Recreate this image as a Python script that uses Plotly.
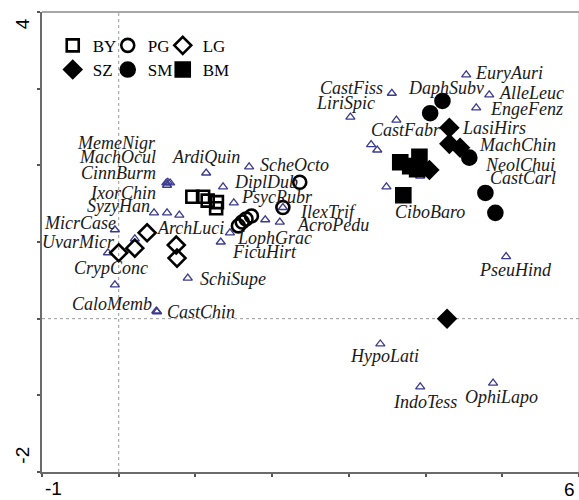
import plotly.graph_objects as go

# ---- species scores (triangles) ----
species = ["EuryAuri", "AlleLeuc", "EngeFenz", "CastFiss", "LiriSpic", "CastFabr",
           "DaphSubv", "LasiHirs", "MachChin", "NeolChui", "CastCarl", "CiboBaro",
           "PseuHind", "HypoLati", "IndoTess", "OphiLapo", "MemeNigr", "MachOcul",
           "CinnBurm", "IxorChin", "SyzyHan", "ArchLuci", "MicrCase", "UvarMicr",
           "CrypConc", "CaloMemb", "CastChin", "SchiSupe", "ArdiQuin", "DiplDub",
           "ScheOcto", "PsycRubr", "IlexTrif", "AcroPedu", "LophGrac", "FicuHirt"]
species_x = [4.53, 4.83, 4.66, 3.56, 3.02, 3.62,
             4.22, 4.31, 4.45, 4.57, 4.78, 3.49,
             5.05, 3.41, 3.93, 4.88, 0.64, 0.62,
             0.67, 0.63, 0.46, 0.79, -0.05, -0.14,
             -0.05, 0.49, 0.50, 0.90, 1.14, 1.36,
             1.70, 1.50, 2.14, 2.10, 1.45, 1.33]
species_y = [3.18, 2.92, 2.75, 2.94, 2.63, 2.59,
             2.84, 2.49, 2.23, 2.10, 1.64, 1.72,
             0.81, -0.33, -0.89, -0.84, 1.78, 1.77,
             1.77, 1.74, 1.38, 1.35, 1.16, 0.86,
             0.44, 0.10, 0.09, 0.53, 1.90, 1.72,
             1.98, 1.51, 1.45, 1.26, 1.12, 1.00]
# species without printed labels
other_x = [3.29, 3.37, 3.94, 3.93, 0.63, 0.21, 1.91]
other_y = [2.27, 2.20, 1.98, 1.86, 1.38, 1.04, 1.29]

# ---- site scores ----
sites = ["BY", "PG", "LG", "SZ", "SM", "BM"]
BY_x = [0.96, 1.10, 1.16, 1.28, 1.27]
BY_y = [1.59, 1.59, 1.54, 1.52, 1.44]
PG_x = [2.36, 2.14, 1.73, 1.66, 1.61, 1.56]
PG_y = [1.78, 1.45, 1.34, 1.30, 1.26, 1.21]
LG_x = [0.00, 0.21, 0.37, 0.75, 0.76]
LG_y = [0.86, 0.92, 1.12, 0.96, 0.79]
SZ_x = [4.31, 4.31, 4.45, 4.05, 4.28]
SZ_y = [2.49, 2.28, 2.23, 1.94, 0.00]
SM_x = [4.22, 4.06, 4.57, 4.78, 4.91]
SM_y = [2.84, 2.68, 2.10, 1.64, 1.38]
BM_x = [3.67, 3.80, 3.92, 3.89, 3.71]
BM_y = [2.04, 1.99, 2.11, 1.95, 1.61]

x_range = [-1, 6]
y_range = [-2, 4]

# label placement (anchor, dx px, dy px downwards) - layout only
label_pos = {
    "EuryAuri": ("left", 7, -2), "AlleLeuc": ("left", 8, -2), "EngeFenz": ("left", 12, 1),
    "CastFiss": ("right", -7, -5), "LiriSpic": ("center", -5, -14), "CastFabr": ("center", 10, 10),
    "DaphSubv": ("center", 4, -13), "LasiHirs": ("left", 11, 0), "MachChin": ("left", 17, -3),
    "NeolChui": ("left", 14, 7), "CastCarl": ("left", 3, -15), "CiboBaro": ("center", 44, 25),
    "PseuHind": ("center", 9, 13), "HypoLati": ("center", 4, 12), "IndoTess": ("center", 5, 15),
    "OphiLapo": ("center", 8, 14), "MemeNigr": ("right", -10, -39), "MachOcul": ("right", -8, -26),
    "CinnBurm": ("right", -12, -10), "IxorChin": ("right", -9, 8), "SyzyHan": ("right", -2, -7),
    "ArchLuci": ("center", 11, 13), "MicrCase": ("right", 3, -7), "UvarMicr": ("right", 9, -11),
    "CrypConc": ("center", -4, -17), "CaloMemb": ("right", -2, -7), "CastChin": ("left", 8, 0),
    "SchiSupe": ("left", 10, 1), "ArdiQuin": ("center", 0, -16), "DiplDub": ("left", 9, -5),
    "ScheOcto": ("left", 9, -2), "PsycRubr": ("left", 5, -6), "IlexTrif": ("left", 15, 4),
    "AcroPedu": ("left", 15, 3), "LophGrac": ("left", 5, 5), "FicuHirt": ("left", 9, 10),
}

TRI = "#3b3b8e"
fig = go.Figure()
fig.add_trace(go.Scatter(x=species_x + other_x, y=species_y + other_y, mode="markers",
                         marker=dict(symbol="triangle-up-open", size=8, color=TRI,
                                     line=dict(width=1.3, color=TRI)),
                         showlegend=False, hoverinfo="skip"))

site_data = {"BY": (BY_x, BY_y), "PG": (PG_x, PG_y), "LG": (LG_x, LG_y),
             "SZ": (SZ_x, SZ_y), "SM": (SM_x, SM_y), "BM": (BM_x, BM_y)}
site_style = {"BY": ("square-open", 12), "PG": ("circle-open", 13), "LG": ("diamond-open", 13),
              "SZ": ("diamond", 13), "SM": ("circle", 14), "BM": ("square", 14)}
for i, s in enumerate(sites):
    sx, sy = site_data[s]
    sym, size = site_style[s]
    fig.add_trace(go.Scatter(x=sx, y=sy, mode="markers", name=s,
                             marker=dict(symbol=sym, size=size, color="black",
                                         line=dict(width=2.6, color="black")),
                             legend="legend" if i < 3 else "legend2",
                             legendwidth=10 if i % 3 < 2 else 40))

ann = []
for n, xv, yv in zip(species, species_x, species_y):
    anchor, dx, dy = label_pos[n]
    ann.append(dict(x=xv, y=yv, xref="x", yref="y", text=n, showarrow=False,
                    xanchor=anchor, yanchor="middle", xshift=dx, yshift=-dy,
                    font=dict(family="Liberation Serif", size=18, color="#1a1a1a", style="italic")))

tick_font = dict(family="Liberation Sans, Arial", size=19, color="black")
ann += [
    dict(x=0.021, y=-0.035, xref="paper", yref="paper", text="-1", showarrow=False,
         xanchor="center", yanchor="middle", font=tick_font),
    dict(x=0.982, y=-0.037, xref="paper", yref="paper", text="6", showarrow=False,
         xanchor="center", yanchor="middle", font=tick_font),
    dict(x=-0.035, y=0.974, xref="paper", yref="paper", text="4", showarrow=False,
         xanchor="center", yanchor="middle", textangle=-90, font=tick_font),
    dict(x=-0.036, y=0.037, xref="paper", yref="paper", text="-2", showarrow=False,
         xanchor="center", yanchor="middle", textangle=-90, font=tick_font),
]

shapes = [
    dict(type="line", xref="x", yref="paper", x0=0, x1=0, y0=0, y1=1,
         line=dict(color="#999999", width=1, dash="dot"), layer="below"),
    dict(type="line", xref="paper", yref="y", x0=0, x1=1, y0=0, y1=0,
         line=dict(color="#999999", width=1, dash="dot"), layer="below"),
    dict(type="line", xref="paper", yref="paper", x0=0, x1=1, y0=1, y1=1,
         line=dict(color="#8a8a8a", width=1.5)),
    dict(type="line", xref="paper", yref="paper", x0=1, x1=1, y0=0, y1=1,
         line=dict(color="#b0b0b0", width=1)),
]

leg_font = dict(family="Liberation Serif", size=17, color="black")
fig.update_layout(
    width=579, height=500,
    margin=dict(l=42, r=0, t=12, b=28),
    paper_bgcolor="white", plot_bgcolor="white",
    xaxis=dict(range=x_range, tickvals=list(range(-1, 7)), showticklabels=False,
               showgrid=False, zeroline=False, showline=True, linecolor="#6b6b6b",
               linewidth=2, ticks="outside", ticklen=3, tickwidth=2, tickcolor="#555"),
    yaxis=dict(range=y_range, tickvals=list(range(-2, 5)), showticklabels=False,
               showgrid=False, zeroline=False, showline=True, linecolor="#6b6b6b",
               linewidth=2, ticks="outside", ticklen=3, tickwidth=2, tickcolor="#555"),
    legend=dict(orientation="h", x=0.02, y=0.9265, xanchor="left", yanchor="middle",
                entrywidthmode="pixels", font=leg_font,
                bgcolor="rgba(0,0,0,0)", itemwidth=30),
    legend2=dict(orientation="h", x=0.02, y=0.874, xanchor="left", yanchor="middle",
                 entrywidthmode="pixels", font=leg_font,
                 bgcolor="rgba(0,0,0,0)", itemwidth=30),
    annotations=ann, shapes=shapes, showlegend=True,
)

fig.write_html("out.html", config={"displayModeBar": False},
               post_script="document.body.style.margin='0px';")
